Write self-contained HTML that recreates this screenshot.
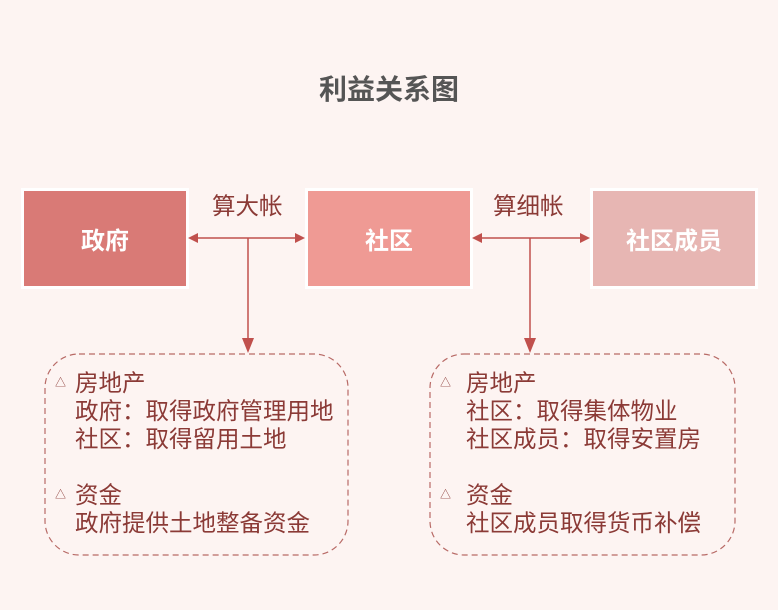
<!DOCTYPE html>
<html><head><meta charset="utf-8"><style>
body{margin:0;width:778px;height:610px;background:#fdf4f2;position:relative;overflow:hidden;font-family:"Liberation Sans","Noto Sans CJK SC",sans-serif}
.t{position:absolute;white-space:nowrap}
.box{position:absolute;top:191px;width:162px;height:95px;color:#fff;font-weight:bold;font-size:24px;display:flex;align-items:center;justify-content:center;outline:3px solid #fff}
.d{position:absolute;color:#8b3a36;font-size:23.5px;line-height:28px;white-space:nowrap}
.tri{position:absolute;font-size:11px;color:#8b3a36}
</style></head><body>
<div class="t" style="left:0;width:778px;text-align:center;top:68px;font-size:28px;font-weight:bold;color:#555">利益关系图</div>
<div class="box" style="left:24px;background:#d97a76">政府</div>
<div class="box" style="left:308px;background:#ef9a94">社区</div>
<div class="box" style="left:593px;background:#e7b6b3">社区成员</div>
<div class="t" style="left:212px;top:187px;font-size:23.5px;color:#8b3a36">算大帐</div>
<div class="t" style="left:493px;top:187px;font-size:23.5px;color:#8b3a36">算细帐</div>
<svg width="778" height="610" style="position:absolute;left:0;top:0">
<g stroke="#c0504d" stroke-width="1.5" fill="#c0504d">
<line x1="196" y1="238" x2="296" y2="238"/>
<polygon points="188,238 198,233 198,243" stroke="none"/>
<polygon points="305,238 295,233 295,243" stroke="none"/>
<line x1="248" y1="238" x2="248" y2="340"/>
<polygon points="248,353 242,338 254,338" stroke="none"/>
<line x1="480" y1="238" x2="582" y2="238"/>
<polygon points="472,238 482,233 482,243" stroke="none"/>
<polygon points="590,238 580,233 580,243" stroke="none"/>
<line x1="530" y1="238" x2="530" y2="340"/>
<polygon points="530,353 524,338 536,338" stroke="none"/>
</g>
<g fill="none" stroke="#b86a66" stroke-width="1.2" stroke-dasharray="6,4">
<rect x="45" y="354" width="303" height="201" rx="34"/>
<rect x="430" y="354" width="305" height="201" rx="34"/>
</g>
</svg>
<div class="tri" style="left:55px;top:374px">△</div>
<div class="tri" style="left:55px;top:486px">△</div>
<div class="d" style="left:75px;top:369px">房地产<br>政府：取得政府管理用地<br>社区：取得留用土地</div>
<div class="d" style="left:75px;top:481px">资金<br>政府提供土地整备资金</div>
<div class="tri" style="left:440px;top:374px">△</div>
<div class="tri" style="left:440px;top:486px">△</div>
<div class="d" style="left:466px;top:369px">房地产<br>社区：取得集体物业<br>社区成员：取得安置房</div>
<div class="d" style="left:466px;top:481px">资金<br>社区成员取得货币补偿</div>
</body></html>
